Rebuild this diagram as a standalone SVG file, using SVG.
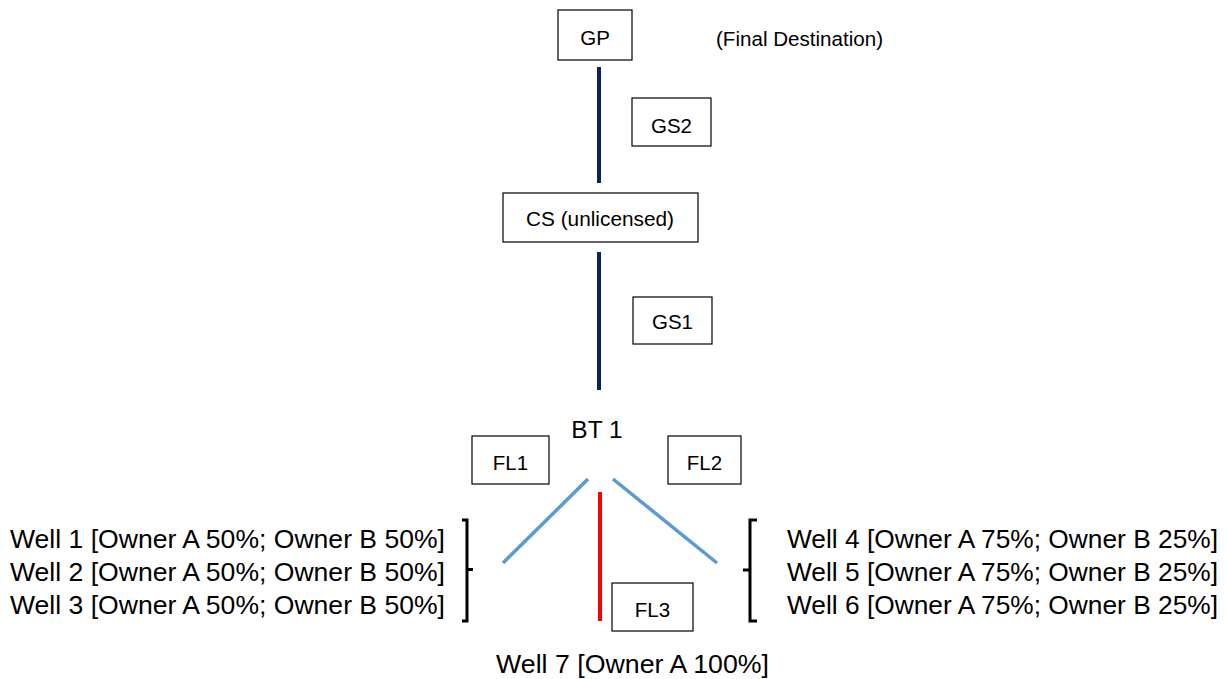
<svg xmlns="http://www.w3.org/2000/svg" width="1227" height="679" viewBox="0 0 1227 679">
<style>
text{font-family:"Liberation Sans",Arial,sans-serif;fill:#000}
.lbl{font-size:20.5px;text-anchor:middle}
.well{font-size:26px}
.box{fill:#fff;stroke:#000;stroke-width:1.2}
.gs{stroke:#0B2260;stroke-width:4;fill:none}
.fl{stroke:#5B9BD5;stroke-width:3.5;fill:none}
.fl3{stroke:#FF0000;stroke-width:4;fill:none}
.br{stroke:#000;stroke-width:3;fill:none}
</style>
<rect width="1227" height="679" fill="#fff"/>
<g id="connectors">
<line class="gs" x1="599" y1="67" x2="599" y2="183"/>
<line class="gs" x1="599" y1="252" x2="599" y2="390"/>
<line class="fl" x1="588" y1="479" x2="503" y2="563"/>
<line class="fl" x1="613" y1="479" x2="717" y2="563"/>
<line class="fl3" x1="600" y1="492" x2="600" y2="621"/>
</g>
<g id="GP"><rect class="box" x="558" y="10" width="74" height="50"/><text class="lbl" x="595" y="45">GP</text></g>
<g id="final"><text style="font-size:20.5px" x="716" y="46" textLength="167" lengthAdjust="spacingAndGlyphs">(Final Destination)</text></g>
<g id="GS2"><rect class="box" x="632" y="98" width="79" height="48"/><text class="lbl" x="671.5" y="133">GS2</text></g>
<g id="CS"><rect class="box" x="503" y="193" width="195" height="49"/><text class="lbl" x="600" y="226" textLength="148" lengthAdjust="spacingAndGlyphs">CS (unlicensed)</text></g>
<g id="GS1"><rect class="box" x="633" y="297" width="79" height="47"/><text class="lbl" x="672.5" y="329">GS1</text></g>
<g id="BT1"><text style="font-size:24.5px;text-anchor:middle" x="597" y="438">BT 1</text></g>
<g id="FL1"><rect class="box" x="472" y="436" width="77" height="48"/><text class="lbl" x="510.5" y="470">FL1</text></g>
<g id="FL2"><rect class="box" x="668" y="436" width="73" height="48"/><text class="lbl" x="704.5" y="470">FL2</text></g>
<g id="FL3"><rect class="box" x="612" y="583" width="81" height="48"/><text class="lbl" x="652.5" y="617">FL3</text></g>
<g id="wells-left">
<path class="br" d="M462 520 H467 V621 H462 M467 569.5 H473"/>
<text class="well" x="10" y="548" textLength="435" lengthAdjust="spacingAndGlyphs">Well 1 [Owner A 50%; Owner B 50%]</text>
<text class="well" x="10" y="581" textLength="435" lengthAdjust="spacingAndGlyphs">Well 2 [Owner A 50%; Owner B 50%]</text>
<text class="well" x="10" y="614" textLength="435" lengthAdjust="spacingAndGlyphs">Well 3 [Owner A 50%; Owner B 50%]</text>
</g>
<g id="wells-right">
<path class="br" d="M757 520 H750 V621 H757 M750 570 H743"/>
<text class="well" x="787" y="548" textLength="431" lengthAdjust="spacingAndGlyphs">Well 4 [Owner A 75%; Owner B 25%]</text>
<text class="well" x="787" y="581" textLength="431" lengthAdjust="spacingAndGlyphs">Well 5 [Owner A 75%; Owner B 25%]</text>
<text class="well" x="787" y="614" textLength="431" lengthAdjust="spacingAndGlyphs">Well 6 [Owner A 75%; Owner B 25%]</text>
</g>
<g id="well7"><text class="well" x="496" y="673" textLength="273" lengthAdjust="spacingAndGlyphs">Well 7 [Owner A 100%]</text></g>
</svg>
